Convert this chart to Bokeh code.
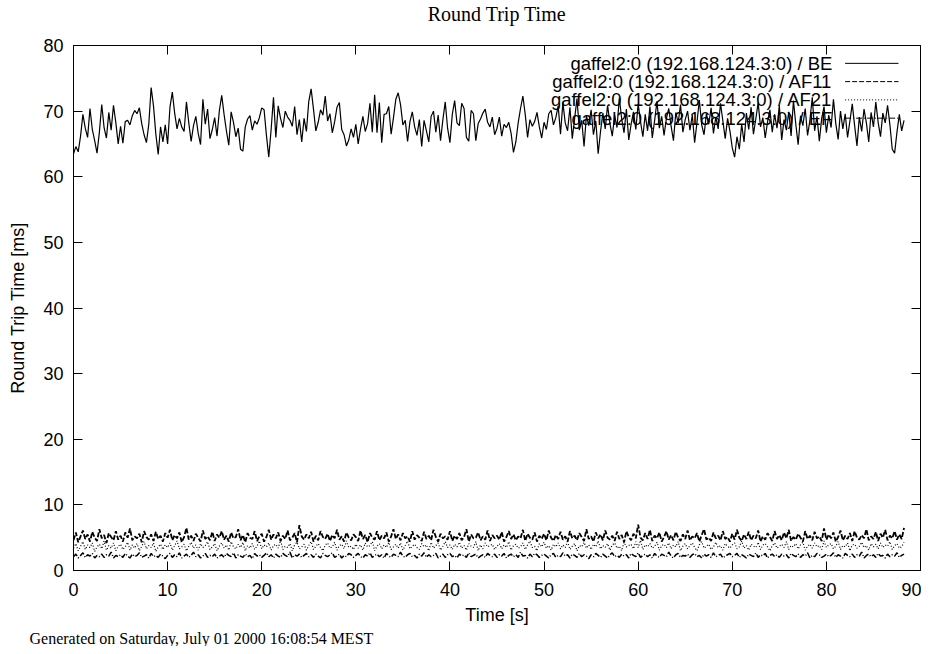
from bokeh.plotting import figure
from bokeh.models import Range1d, LinearAxis, FixedTicker, Label, Arrow, Title
from bokeh.embed import file_html
from bokeh.resources import INLINE

# ---------------- data ----------------
sample_step = 0.25  # seconds between samples

be = [
    63.5, 64.6, 63.8, 66.2, 69.5, 67.4, 66.0, 70.4, 67.2, 65.5, 63.6, 66.8, 71.0, 67.5, 65.9, 69.8, 67.1, 70.9, 68.2, 65.0,
    67.7, 65.1, 68.4, 68.6, 67.9, 69.3, 70.1, 69.6, 70.5, 68.1, 66.4, 65.2, 68.0, 73.6, 70.8, 66.5, 63.4, 67.6, 65.3, 67.9,
    65.0, 70.6, 72.9, 69.7, 67.3, 68.9, 67.6, 66.9, 71.4, 68.2, 65.4, 67.8, 69.2, 66.6, 64.9, 71.8, 68.0, 70.3, 65.8, 67.2,
    69.0, 66.2, 70.1, 72.4, 69.5, 67.0, 64.8, 69.9, 68.3, 66.1, 67.4, 64.2, 63.9, 67.6, 68.8, 69.3, 67.1, 68.5, 68.0, 69.0,
    70.5, 70.2, 66.3, 63.0, 67.2, 72.1, 66.0, 70.8, 68.9, 67.5, 70.0, 69.1, 68.6, 67.7, 70.7, 66.4, 68.7, 65.3, 68.9, 66.9,
    71.5, 73.4, 70.3, 67.0, 68.3, 70.2, 69.4, 72.3, 68.5, 69.6, 66.7, 68.4, 70.6, 71.3, 67.2, 66.4, 64.7, 65.6, 67.3, 66.0,
    68.0, 65.0, 67.3, 69.2, 66.9, 68.1, 71.2, 66.8, 72.5, 66.7, 71.3, 65.2, 69.5, 69.6, 70.7, 66.5, 69.0, 71.8, 72.8, 71.0,
    67.9, 68.6, 65.4, 68.4, 69.9, 67.6, 66.3, 68.7, 64.6, 68.6, 67.0, 65.3, 69.2, 70.0, 66.8, 69.4, 65.5, 68.7, 71.4, 67.4,
    65.2, 69.5, 71.6, 68.2, 67.8, 71.2, 70.4, 66.0, 65.4, 70.1, 69.6, 65.5, 68.1, 68.8, 69.7, 70.3, 68.3, 67.6, 69.1, 66.4,
    67.4, 69.1, 66.2, 68.0, 67.5, 68.3, 66.6, 63.7, 65.3, 68.2, 70.4, 72.3, 69.5, 66.0, 68.7, 67.7, 68.4, 69.8, 67.6, 65.9,
    68.3, 67.2, 69.6, 70.1, 67.9, 69.0, 70.8, 66.5, 71.3, 68.2, 67.0, 70.6, 65.8, 68.9, 71.9, 67.1, 68.6, 64.6, 69.3, 67.8,
    70.2, 66.4, 68.5, 63.5, 66.9, 69.7, 67.3, 70.9, 68.1, 66.2, 69.4, 67.5, 72.0, 68.8, 66.7, 70.3, 65.6, 68.0, 69.9, 67.2,
    71.1, 68.4, 66.1, 69.5, 67.0, 70.7, 65.9, 68.6, 71.5, 67.4, 69.2, 66.3, 68.9, 70.4, 67.7, 65.5, 69.8, 68.2, 71.0, 66.8,
    68.7, 70.0, 67.1, 69.4, 65.2, 68.3, 71.7, 67.9, 66.4, 69.6, 68.0, 70.5, 66.6, 69.1, 67.3, 71.2, 68.5, 65.8, 68.9, 67.0,
    64.4, 63.0, 66.1, 64.2, 68.0, 65.3, 69.7, 67.2, 70.6, 66.5, 68.8, 71.3, 67.6, 69.0, 65.9, 68.4, 70.2, 66.8, 69.5, 67.4,
    70.9, 65.6, 68.7, 67.1, 69.9, 66.2, 71.6, 68.0, 64.9, 69.3, 67.8, 70.4, 66.3, 68.6, 72.1, 67.0, 69.2, 65.4, 68.9, 70.7,
    66.7, 69.4, 67.5, 71.8, 68.1, 65.7, 70.0, 67.3, 69.6, 66.0, 68.5, 71.1, 67.8, 64.7, 69.1, 66.9, 70.3, 68.2, 65.3, 69.8,
    67.6, 71.4, 68.3, 66.1, 69.7, 68.2, 70.9, 67.9, 64.2, 63.6, 66.8, 69.5, 67.0, 68.6,
]

af11 = [
    4.6, 5.8, 4.3, 5.2, 6.1, 4.8, 5.5, 4.4, 5.9, 5.0, 4.5, 6.3, 4.9, 5.4, 4.2, 5.7, 5.1, 4.6, 6.0, 4.7,
    5.3, 4.4, 5.8, 5.0, 6.4, 4.6, 5.2, 4.9, 5.6, 4.3, 6.0, 5.1, 4.7, 5.5, 4.5, 5.9, 4.8, 5.3, 4.4, 5.7,
    5.0, 6.2, 4.6, 5.4, 4.9, 5.8, 4.3, 5.1, 6.5, 4.7, 5.3, 4.5, 5.6, 5.0, 4.4, 6.1, 4.8, 5.2, 4.6, 5.9,
    4.5, 5.5, 5.0, 6.0, 4.7, 5.3, 4.4, 5.8, 4.9, 5.1, 6.3, 4.6, 5.4, 4.3, 5.7, 5.0, 4.8, 6.0, 4.5, 5.2,
    5.6, 4.4, 5.1, 6.2, 4.7, 5.5, 4.9, 5.8, 4.5, 5.3, 4.8, 6.1, 4.6, 5.0, 5.7, 4.3, 6.9, 5.2, 4.7, 5.5,
    4.9, 5.9, 4.4, 5.3, 4.6, 6.0, 5.1, 4.8, 5.6, 4.5, 5.4, 4.9, 6.2, 4.7, 5.2, 4.4, 5.8, 5.0, 4.6, 5.5,
    5.1, 4.5, 6.1, 4.8, 5.4, 4.3, 5.7, 5.0, 4.7, 6.0, 4.6, 5.3, 4.9, 5.8, 4.4, 5.2, 6.3, 4.8, 5.5, 4.6,
    5.7, 4.9, 5.2, 4.4, 6.0, 4.7, 5.4, 5.0, 4.5, 5.9, 4.8, 5.3, 4.6, 6.2, 5.1, 4.4, 5.6, 4.9, 5.2, 4.7,
    6.0, 4.5, 5.3, 4.8, 5.7, 4.6, 5.1, 6.3, 4.4, 5.5, 4.9, 5.0, 5.8, 4.6, 5.2, 4.7, 6.1, 4.5, 5.4, 4.9,
    5.3, 4.7, 5.9, 4.4, 5.1, 6.0, 4.8, 5.5, 4.6, 5.2, 4.9, 6.2, 4.5, 5.6, 5.0, 4.7, 5.8, 4.4, 5.3, 4.8,
    5.6, 4.6, 6.1, 5.0, 4.5, 5.4, 4.8, 5.9, 4.7, 5.2, 4.4, 6.0, 4.9, 5.3, 4.6, 5.7, 5.1, 4.5, 6.3, 4.8,
    5.2, 4.4, 5.8, 4.9, 5.5, 4.6, 6.1, 5.0, 4.7, 5.3, 4.5, 5.9, 4.8, 5.4, 4.3, 6.0, 5.1, 4.6, 5.6, 4.9,
    7.0, 5.0, 4.6, 5.7, 4.8, 6.2, 4.5, 5.3, 4.9, 5.8, 4.4, 5.1, 6.0, 4.7, 5.4, 4.6, 5.9, 5.0, 4.5, 5.5,
    4.8, 6.1, 4.6, 5.2, 4.9, 5.7, 4.4, 5.4, 6.3, 4.7, 5.0, 4.5, 5.8, 4.9, 5.3, 4.6, 6.0, 4.8, 5.1, 4.4,
    5.6, 4.7, 6.2, 5.0, 4.5, 5.5, 4.8, 5.9, 4.6, 5.3, 4.9, 6.1, 4.4, 5.2, 4.7, 5.7, 5.1, 4.5, 6.0, 4.8,
    5.4, 4.6, 5.8, 4.9, 6.2, 4.5, 5.1, 4.7, 5.6, 5.0, 4.4, 6.0, 4.8, 5.3, 4.6, 5.9, 4.9, 5.2, 4.5, 6.4,
    4.7, 5.5, 4.9, 5.8, 4.4, 5.1, 6.1, 4.6, 5.3, 4.8, 5.7, 4.5, 6.0, 5.0, 4.7, 5.4, 4.9, 6.3, 4.6, 5.2,
    4.8, 5.9, 4.5, 5.6, 5.0, 6.2, 4.6, 5.3, 4.9, 6.0, 4.7, 5.5, 4.8, 6.5,
]

af21 = [
    3.4, 4.1, 3.0, 3.7, 4.4, 3.2, 3.9, 3.5, 4.2, 2.9, 3.6, 4.0, 3.3, 4.5, 3.1, 3.8, 3.4, 4.2, 3.0, 3.7,
    4.0, 3.2, 3.6, 4.3, 3.1, 3.9, 3.4, 4.1, 3.0, 3.7, 4.4, 3.3, 3.8, 3.5, 4.2, 2.9, 3.6, 4.0, 3.2, 3.9,
    3.5, 4.2, 3.1, 3.8, 4.5, 3.3, 3.6, 4.0, 3.0, 3.7, 4.3, 3.4, 3.9, 3.1, 4.1, 3.5, 3.8, 4.4, 3.2, 3.6,
    4.1, 3.0, 3.7, 4.2, 3.4, 3.9, 3.1, 4.4, 3.6, 3.3, 4.0, 3.5, 4.3, 3.0, 3.8, 3.4, 4.1, 3.2, 3.7, 4.5,
    3.3, 3.9, 3.6, 4.2, 3.1, 3.8, 4.0, 3.4, 4.6, 3.2, 3.7, 3.5, 4.1, 3.0, 3.9, 4.3, 3.3, 3.6, 4.0, 3.1,
    3.8, 4.4, 3.2, 3.7, 4.1, 3.5, 3.0, 3.9, 4.2, 3.4, 3.6, 4.3, 3.1, 3.8, 4.0, 3.3, 4.5, 3.5, 3.7, 3.2,
    4.0, 3.4, 3.9, 3.1, 4.2, 3.6, 3.8, 4.4, 3.0, 3.7, 4.1, 3.3, 3.9, 3.5, 4.3, 3.2, 3.6, 4.0, 3.4, 4.2,
    3.1, 3.8, 4.5, 3.3, 3.7, 4.0, 3.5, 3.2, 4.1, 3.6, 3.9, 3.0, 4.3, 3.4, 3.8, 4.2, 3.1, 3.7, 4.4, 3.5,
    3.9, 3.2, 4.0, 3.6, 4.3, 3.4, 3.8, 3.1, 4.1, 3.7, 3.5, 4.4, 3.0, 3.9, 3.3, 4.2, 3.6, 3.8, 4.0, 3.2,
    3.7, 4.1, 3.3, 3.9, 3.5, 4.4, 3.1, 3.8, 4.0, 3.4, 3.6, 4.2, 3.2, 3.9, 4.5, 3.5, 3.7, 3.0, 4.1, 3.6,
    4.3, 3.4, 3.8, 3.1, 4.0, 3.6, 4.2, 3.3, 3.9, 3.5, 4.4, 3.2, 3.7, 4.1, 3.0, 3.8, 3.6, 4.3, 3.4, 3.9,
    3.2, 4.0, 3.6, 4.5, 3.3, 3.8, 3.5, 4.1, 3.1, 3.9, 4.2, 3.4, 3.7, 3.0, 4.3, 3.6, 3.8, 4.0, 3.3, 4.4,
    3.5, 4.6, 3.2, 3.9, 3.6, 4.1, 3.4, 3.7, 4.3, 3.1, 3.8, 4.0, 3.5, 4.2, 3.3, 3.9, 3.6, 4.4, 3.0, 3.7,
    4.1, 3.3, 3.8, 4.2, 3.5, 3.0, 3.9, 4.4, 3.4, 3.7, 4.0, 3.2, 3.6, 4.3, 3.5, 3.8, 3.1, 4.1, 3.7, 3.4,
    3.9, 4.2, 3.3, 3.6, 4.5, 3.4, 3.8, 3.1, 4.0, 3.7, 3.5, 4.3, 3.2, 3.9, 4.1, 3.6, 3.0, 3.8, 4.2, 3.4,
    3.7, 4.0, 3.5, 4.4, 3.2, 3.8, 3.6, 4.1, 3.3, 3.9, 4.3, 3.1, 3.7, 4.0, 3.4, 4.2, 3.6, 3.8, 3.2, 4.5,
    3.5, 3.9, 4.1, 3.3, 3.7, 4.4, 3.2, 3.8, 3.6, 4.2, 3.0, 3.9, 4.0, 3.4, 3.7, 4.3, 3.5, 3.8, 3.1, 4.1,
    3.6, 4.0, 3.3, 4.2, 3.5, 3.9, 3.7, 4.4, 3.2, 3.8, 4.1, 3.4, 3.6, 4.3,
]

ef = [
    2.1, 2.5, 1.9, 2.3, 2.7, 2.0, 2.4, 2.2, 2.6, 1.9, 2.3, 2.1, 2.5, 2.0, 2.4, 2.2, 2.8, 1.9, 2.3, 2.1,
    2.4, 2.0, 2.6, 2.2, 1.9, 2.5, 2.1, 2.3, 2.7, 2.0, 2.2, 2.4, 1.9, 2.6, 2.1, 2.3, 2.0, 2.5, 2.2, 1.8,
    2.3, 2.6, 2.0, 2.4, 2.1, 2.7, 1.9, 2.2, 2.5, 2.0, 2.3, 2.8, 2.1, 2.4, 1.9, 2.2, 2.6, 2.0, 2.3, 2.1,
    2.5, 1.9, 2.2, 2.4, 2.0, 2.6, 2.3, 2.1, 2.7, 1.9, 2.4, 2.2, 2.0, 2.5, 2.1, 2.3, 1.8, 2.6, 2.2, 2.4,
    2.0, 2.3, 2.7, 2.1, 2.4, 1.9, 2.5, 2.2, 2.0, 2.6, 2.3, 2.1, 2.8, 1.9, 2.4, 2.2, 2.5, 2.0, 2.3, 2.6,
    2.1, 2.4, 2.0, 2.5, 2.2, 1.9, 2.6, 2.3, 2.1, 2.4, 2.7, 2.0, 2.2, 2.5, 1.9, 2.3, 2.1, 2.6, 2.4, 2.0,
    2.3, 2.6, 2.1, 1.9, 2.4, 2.2, 2.7, 2.0, 2.3, 2.5, 2.1, 2.4, 1.9, 2.6, 2.2, 2.0, 2.5, 2.3, 2.1, 2.8,
    2.2, 2.0, 2.4, 2.6, 2.1, 2.3, 1.9, 2.5, 2.2, 2.7, 2.0, 2.4, 2.1, 2.3, 2.6, 1.9, 2.2, 2.5, 2.0, 2.4,
    2.6, 2.1, 2.3, 1.9, 2.5, 2.2, 2.4, 2.0, 2.7, 2.1, 2.3, 2.5, 1.9, 2.2, 2.4, 2.0, 2.6, 2.3, 2.1, 2.5,
    2.0, 2.4, 2.2, 2.6, 1.9, 2.3, 2.5, 2.1, 2.4, 2.0, 2.8, 2.2, 2.3, 1.9, 2.5, 2.1, 2.6, 2.4, 2.0, 2.3,
    2.5, 2.2, 1.9, 2.4, 2.6, 2.0, 2.3, 2.1, 2.7, 2.2, 2.4, 1.9, 2.5, 2.3, 2.0, 2.6, 2.1, 2.4, 2.2, 1.8,
    2.4, 2.1, 2.6, 2.3, 2.0, 2.5, 2.2, 1.9, 2.4, 2.7, 2.1, 2.3, 2.0, 2.5, 2.2, 2.4, 1.9, 2.6, 2.3, 2.1,
    2.7, 2.0, 2.3, 2.5, 2.1, 2.4, 1.9, 2.6, 2.2, 2.0, 2.5, 2.3, 2.1, 2.8, 2.2, 1.9, 2.4, 2.6, 2.0, 2.3,
    2.2, 2.5, 2.0, 2.4, 2.6, 2.1, 2.3, 1.9, 2.5, 2.2, 2.4, 2.0, 2.7, 2.1, 2.3, 2.5, 1.9, 2.2, 2.4, 2.6,
    2.1, 2.3, 2.6, 2.0, 2.4, 2.2, 1.9, 2.5, 2.3, 2.1, 2.7, 2.0, 2.4, 2.2, 2.6, 1.9, 2.3, 2.5, 2.1, 2.4,
    2.0, 2.5, 2.2, 2.4, 1.9, 2.6, 2.3, 2.1, 2.5, 2.0, 2.4, 2.2, 2.7, 1.9, 2.3, 2.1, 2.6, 2.4, 2.0, 2.2,
    2.5, 2.1, 2.3, 2.7, 2.0, 2.4, 2.2, 1.9, 2.6, 2.3, 2.1, 2.5, 2.0, 2.4, 2.2, 2.8, 1.9, 2.3, 2.5, 2.1,
    2.4, 2.0, 2.6, 2.2, 2.3, 1.9, 2.5, 2.1, 2.4, 2.2, 2.7, 2.0, 2.3, 2.5,
]

series_names = [
    "gaffel2:0 (192.168.124.3:0) / BE",
    "gaffel2:0 (192.168.124.3:0) / AF11",
    "gaffel2:0 (192.168.124.3:0) / AF21",
    "gaffel2:0 (192.168.124.3:0) / EF",
]
series_values = [be, af11, af21, ef]
series_dash = ["solid", "5 2", "1 2", "6 2 1 2"]
series_width = [1.2, 1.8, 1.2, 1.5]

x_ticks = [0, 10, 20, 30, 40, 50, 60, 70, 80, 90]
y_ticks = [0, 10, 20, 30, 40, 50, 60, 70, 80]

title_text = "Round Trip Time"
x_label = "Time [s]"
y_label = "Round Trip Time [ms]"
footer_text = "Generated on Saturday, July 01 2000 16:08:54 MEST"

time_s = [i * sample_step for i in range(len(be))]

# ---------------- figure ----------------
SANS = "Liberation Sans"
SERIF = "Liberation Serif"
FS = "18px"

x0, x1 = x_ticks[0], x_ticks[-1]
y0, y1 = y_ticks[0], y_ticks[-1]

p = figure(width=921, height=646, output_backend="svg", toolbar_location=None,
           x_range=Range1d(x0, x1), y_range=Range1d(y0, y1), title=None,
           min_border_left=73, min_border_right=1, min_border_top=44, min_border_bottom=70)
p.background_fill_color = "white"
p.border_fill_color = "white"
p.outline_line_color = "black"
p.outline_line_width = 1
p.xgrid.visible = False
p.ygrid.visible = False

xa = p.xaxis[0]
ya = p.yaxis[0]
xa.ticker = FixedTicker(ticks=x_ticks)
ya.ticker = FixedTicker(ticks=y_ticks)
for ax in (xa, ya):
    ax.axis_line_color = None
    ax.major_tick_in = 9
    ax.major_tick_out = 0
    ax.minor_tick_line_color = None
    ax.major_tick_line_color = "black"
    ax.major_label_text_font = SANS
    ax.major_label_text_font_size = FS
    ax.major_label_text_color = "black"
    ax.axis_label_text_font = SANS
    ax.axis_label_text_font_size = FS
    ax.axis_label_text_font_style = "normal"
    ax.axis_label_text_color = "black"
xa.major_label_standoff = 12
ya.major_label_standoff = 10
xa.axis_label = x_label
ya.axis_label = y_label
xa.axis_label_standoff = 6
ya.axis_label_standoff = 12

for loc, ticks in (("above", x_ticks), ("right", y_ticks)):
    ax = LinearAxis(ticker=FixedTicker(ticks=ticks))
    ax.axis_line_color = None
    ax.major_tick_in = 9
    ax.major_tick_out = 0
    ax.minor_tick_line_color = None
    ax.major_label_text_font_size = "0px"
    ax.major_label_standoff = 0
    ax.major_label_text_color = None
    p.add_layout(ax, loc)

# spacer between the frame and the title, then the title itself
p.add_layout(Title(text=" ", text_font=SERIF, text_font_size="17px", standoff=0), "above")
p.add_layout(Title(text=title_text, align="center", text_font=SERIF,
                   text_font_size="20px", text_font_style="normal",
                   text_color="black", standoff=0), "above")

for vals, dash, lw in zip(series_values, series_dash, series_width):
    p.line(time_s, vals, line_color="black", line_width=lw, line_dash=dash)

# gnuplot-style key: text right-aligned, sample line to its right
key_text_x = x1 - 0.104 * (x1 - x0)
key_line_x0 = x1 - 0.089 * (x1 - x0)
key_line_x1 = x1 - 0.026 * (x1 - x0)
key_top = y1 - 0.034 * (y1 - y0)
key_dy = 0.0348 * (y1 - y0)
for i, (name, dash) in enumerate(zip(series_names, series_dash)):
    yy = key_top - i * key_dy
    p.add_layout(Label(x=key_text_x, y=yy, text=name, text_align="right",
                       text_baseline="middle", text_font=SANS, text_font_size="18.5px",
                       text_color="black"))
    p.add_layout(Arrow(end=None, x_start=key_line_x0, x_end=key_line_x1,
                       y_start=yy, y_end=yy, line_color="black", line_width=1,
                       line_dash=dash))

footer = Title(text=footer_text, align="left", text_font=SERIF,
               text_font_size="16px", text_font_style="normal", text_color="black",
               offset=-44, standoff=0)
p.add_layout(footer, "below")

open("out.html", "w").write(file_html(p, INLINE))
